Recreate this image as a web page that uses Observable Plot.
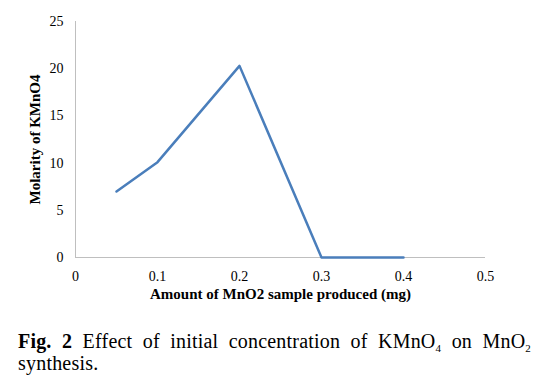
<!DOCTYPE html>
<html>
<head>
<meta charset="utf-8">
<script src="https://cdn.jsdelivr.net/npm/d3@7"></script>
<script src="https://cdn.jsdelivr.net/npm/@observablehq/plot@0.6"></script>
<style>
  html, body { margin: 0; padding: 0; background: #fff; }
  #wrap { position: relative; width: 549px; height: 390px; }
  #chart { position: absolute; left: 0; top: 0; }
  #caption {
    position: absolute; left: 18px; top: 330px; width: 513px;
    font-family: "Liberation Serif", serif; font-size: 20px; line-height: 22px;
    letter-spacing: 0.2px; color: #000;
  }
  #caption .l1 { text-align: justify; text-align-last: justify; white-space: nowrap; }
  #caption .l2 { text-align: left; }
  #caption sub { font-size: 11px; vertical-align: -4px; line-height: 0; }
</style>
</head>
<body>
<div id="wrap">
  <div id="chart"></div>
  <div id="caption"><div class="l1"><b>Fig. 2</b> Effect of initial concentration of KMnO<sub>4</sub> on MnO<sub>2</sub></div><div class="l2">synthesis.</div></div>
</div>
<script>
const amounts = [0.05, 0.1, 0.2, 0.3, 0.4];
const molarity = [7, 10.1, 20.3, 0, 0];
const xTicks = [0, 0.1, 0.2, 0.3, 0.4, 0.5];
const yTicks = [0, 5, 10, 15, 20, 25];
const xLabel = "Amount of MnO2 sample produced (mg)";
const yLabel = "Molarity of KMnO4";

const data = amounts.map((a, i) => ({x: a, y: molarity[i]}));

const chart = Plot.plot({
  width: 549,
  height: 310,
  marginLeft: 75,
  marginRight: 64,
  marginTop: 21,
  marginBottom: 53,
  style: {fontFamily: "Liberation Serif", fontSize: "14px", color: "#000", background: "#fff"},
  x: {domain: [0, 0.5]},
  y: {domain: [0, 25]},
  marks: [
    Plot.ruleY([0], {stroke: "#bfbfbf", strokeWidth: 1, strokeOpacity: 1}),
    Plot.ruleX([0], {stroke: "#bfbfbf", strokeWidth: 1, strokeOpacity: 1}),
    Plot.axisY(yTicks, {tickSize: 0, tickPadding: 12, label: null, fontSize: 14}),
    Plot.axisX(xTicks, {tickSize: 0, tickPadding: 14, label: null, fontSize: 14, tickFormat: d => String(d)}),
    Plot.line(data, {x: "x", y: "y", stroke: "#4a7ebb", strokeWidth: 2.5}),
    Plot.text([yLabel], {frameAnchor: "left", rotate: -90, dx: -40, textAnchor: "middle", fontWeight: "bold", fontSize: 15, text: d => d}),
    Plot.text([xLabel], {frameAnchor: "bottom", dy: 41, fontWeight: "bold", fontSize: 15, text: d => d})
  ]
});
document.getElementById("chart").appendChild(chart);
</script>
</body>
</html>
